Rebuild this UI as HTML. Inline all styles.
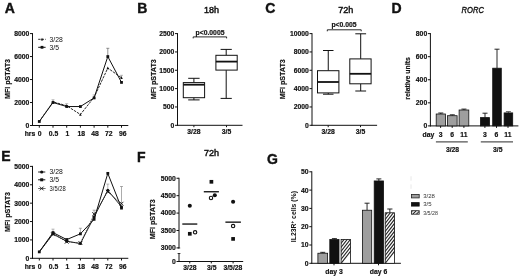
<!DOCTYPE html>
<html><head><meta charset="utf-8"><title>Figure</title>
<style>
html,body{margin:0;padding:0;background:#fff;}
body{width:520px;height:279px;overflow:hidden;font-family:"Liberation Sans",sans-serif;}
svg{display:block;filter:grayscale(1) blur(0.4px);}
svg text{font-family:"Liberation Sans",sans-serif;}
</style></head><body>
<svg width="520" height="279" viewBox="0 0 520 279">
<defs>
<pattern id="hatch" patternUnits="userSpaceOnUse" width="2.4" height="2.4" patternTransform="rotate(-45)">
<rect width="2.4" height="2.4" fill="#fff"/><line x1="0" y1="1.2" x2="2.4" y2="1.2" stroke="#222" stroke-width="0.9"/>
</pattern>
<pattern id="hatch2" patternUnits="userSpaceOnUse" width="2.6" height="2.6" patternTransform="rotate(-45)">
<rect width="2.6" height="2.6" fill="#fff"/><line x1="0" y1="1.3" x2="2.6" y2="1.3" stroke="#222" stroke-width="1.1"/>
</pattern>
</defs>
<rect width="520" height="279" fill="#fff"/>
<text x="4.7" y="13" font-size="14" font-weight="bold" text-anchor="start" fill="#111"  stroke="#111" stroke-width="0.4">A</text>
<text x="137.2" y="13" font-size="14" font-weight="bold" text-anchor="start" fill="#111"  stroke="#111" stroke-width="0.4">B</text>
<text x="265.3" y="13" font-size="14" font-weight="bold" text-anchor="start" fill="#111"  stroke="#111" stroke-width="0.4">C</text>
<text x="391.5" y="13" font-size="14" font-weight="bold" text-anchor="start" fill="#111"  stroke="#111" stroke-width="0.4">D</text>
<text x="1.3" y="161.4" font-size="14" font-weight="bold" text-anchor="start" fill="#111"  stroke="#111" stroke-width="0.4">E</text>
<text x="137" y="162.3" font-size="14" font-weight="bold" text-anchor="start" fill="#111"  stroke="#111" stroke-width="0.4">F</text>
<text x="267" y="164" font-size="14" font-weight="bold" text-anchor="start" fill="#111"  stroke="#111" stroke-width="0.4">G</text>
<line x1="32.5" y1="33.08" x2="32.5" y2="126.0" stroke="#111" stroke-width="1" />
<line x1="30.0" y1="125.5" x2="32.5" y2="125.5" stroke="#111" stroke-width="1" />
<text x="29.3" y="127.9" font-size="6.8" font-weight="bold" text-anchor="end" fill="#111"   stroke="#111" stroke-width="0.18">0</text>
<line x1="30.0" y1="102.52" x2="32.5" y2="102.52" stroke="#111" stroke-width="1" />
<text x="29.3" y="104.92" font-size="6.8" font-weight="bold" text-anchor="end" fill="#111"   stroke="#111" stroke-width="0.18">2000</text>
<line x1="30.0" y1="79.53999999999999" x2="32.5" y2="79.53999999999999" stroke="#111" stroke-width="1" />
<text x="29.3" y="81.94" font-size="6.8" font-weight="bold" text-anchor="end" fill="#111"   stroke="#111" stroke-width="0.18">4000</text>
<line x1="30.0" y1="56.56" x2="32.5" y2="56.56" stroke="#111" stroke-width="1" />
<text x="29.3" y="58.96" font-size="6.8" font-weight="bold" text-anchor="end" fill="#111"   stroke="#111" stroke-width="0.18">6000</text>
<line x1="30.0" y1="33.58" x2="32.5" y2="33.58" stroke="#111" stroke-width="1" />
<text x="29.3" y="35.98" font-size="6.8" font-weight="bold" text-anchor="end" fill="#111"   stroke="#111" stroke-width="0.18">8000</text>
<line x1="32.0" y1="125.5" x2="128.3" y2="125.5" stroke="#111" stroke-width="1" />
<line x1="39.3" y1="125.5" x2="39.3" y2="127.7" stroke="#111" stroke-width="1" />
<text x="39.7" y="136.2" font-size="6.8" font-weight="bold" text-anchor="middle" fill="#111"   stroke="#111" stroke-width="0.18">0</text>
<line x1="53.0" y1="125.5" x2="53.0" y2="127.7" stroke="#111" stroke-width="1" />
<text x="53.53" y="136.2" font-size="6.8" font-weight="bold" text-anchor="middle" fill="#111"   stroke="#111" stroke-width="0.18">0.5</text>
<line x1="66.69999999999999" y1="125.5" x2="66.69999999999999" y2="127.7" stroke="#111" stroke-width="1" />
<text x="67.36" y="136.2" font-size="6.8" font-weight="bold" text-anchor="middle" fill="#111"   stroke="#111" stroke-width="0.18">1</text>
<line x1="80.39999999999999" y1="125.5" x2="80.39999999999999" y2="127.7" stroke="#111" stroke-width="1" />
<text x="81.19" y="136.2" font-size="6.8" font-weight="bold" text-anchor="middle" fill="#111"   stroke="#111" stroke-width="0.18">18</text>
<line x1="94.1" y1="125.5" x2="94.1" y2="127.7" stroke="#111" stroke-width="1" />
<text x="95.02000000000001" y="136.2" font-size="6.8" font-weight="bold" text-anchor="middle" fill="#111"   stroke="#111" stroke-width="0.18">48</text>
<line x1="107.8" y1="125.5" x2="107.8" y2="127.7" stroke="#111" stroke-width="1" />
<text x="108.85000000000001" y="136.2" font-size="6.8" font-weight="bold" text-anchor="middle" fill="#111"   stroke="#111" stroke-width="0.18">72</text>
<line x1="121.49999999999999" y1="125.5" x2="121.49999999999999" y2="127.7" stroke="#111" stroke-width="1" />
<text x="122.68" y="136.2" font-size="6.8" font-weight="bold" text-anchor="middle" fill="#111"   stroke="#111" stroke-width="0.18">96</text>
<text x="30" y="136.2" font-size="6.8" font-weight="bold" text-anchor="middle" fill="#111"   stroke="#111" stroke-width="0.18">hrs</text>
<text transform="translate(10.4,79.0) rotate(-90)" font-size="7.1" font-weight="bold" text-anchor="middle" fill="#111" stroke="#111" stroke-width="0.18">MFI pSTAT3</text>
<line x1="107.8" y1="56.56" x2="107.8" y2="48.3" stroke="#666" stroke-width="0.7" />
<line x1="106.3" y1="48.3" x2="109.3" y2="48.3" stroke="#666" stroke-width="0.7" />
<line x1="53.0" y1="101.8306" x2="53.0" y2="99.6306" stroke="#aaa" stroke-width="0.7" />
<line x1="51.5" y1="99.6306" x2="54.5" y2="99.6306" stroke="#aaa" stroke-width="0.7" />
<line x1="66.69999999999999" y1="105.7372" x2="66.69999999999999" y2="103.5372" stroke="#aaa" stroke-width="0.7" />
<line x1="65.19999999999999" y1="103.5372" x2="68.19999999999999" y2="103.5372" stroke="#aaa" stroke-width="0.7" />
<line x1="94.1" y1="97.3495" x2="94.1" y2="94.8495" stroke="#aaa" stroke-width="0.7" />
<line x1="92.6" y1="94.8495" x2="95.6" y2="94.8495" stroke="#aaa" stroke-width="0.7" />
<line x1="121.49999999999999" y1="77.81649999999999" x2="121.49999999999999" y2="75.31649999999999" stroke="#999" stroke-width="0.7" />
<line x1="119.99999999999999" y1="75.31649999999999" x2="122.99999999999999" y2="75.31649999999999" stroke="#999" stroke-width="0.7" />
<polyline points="39.3,121.48 53.0,101.83 66.69999999999999,105.74 80.39999999999999,114.47 94.1,97.35 107.8,68.05 121.49999999999999,77.82" fill="none" stroke="#111" stroke-width="0.9" stroke-dasharray="2.6 1" stroke-linejoin="round"/>
<polyline points="39.3,121.48 53.0,102.52 66.69999999999999,106.54 80.39999999999999,106.54 94.1,97.92 107.8,56.56 121.49999999999999,82.41" fill="none" stroke="#111" stroke-width="1"  stroke-linejoin="round"/>
<polygon points="53.0,100.27 51.7,103.0 54.3,103.0" fill="#111"/>
<polygon points="66.69999999999999,104.17999999999999 65.39999999999999,106.91 67.99999999999999,106.91" fill="#111"/>
<polygon points="80.39999999999999,112.91 79.1,115.64 81.69999999999999,115.64" fill="#111"/>
<polygon points="94.1,95.78999999999999 92.8,98.52 95.39999999999999,98.52" fill="#111"/>
<polygon points="107.8,66.49 106.5,69.22 109.1,69.22" fill="#111"/>
<polygon points="121.49999999999999,76.25999999999999 120.19999999999999,78.99 122.79999999999998,78.99" fill="#111"/>
<rect x="37.9" y="120.08" width="2.8" height="2.8" fill="#111" stroke="none" stroke-width="0.8" />
<rect x="51.6" y="101.12" width="2.8" height="2.8" fill="#111" stroke="none" stroke-width="0.8" />
<rect x="65.3" y="105.14" width="2.8" height="2.8" fill="#111" stroke="none" stroke-width="0.8" />
<rect x="79.0" y="105.14" width="2.8" height="2.8" fill="#111" stroke="none" stroke-width="0.8" />
<rect x="92.7" y="96.52" width="2.8" height="2.8" fill="#111" stroke="none" stroke-width="0.8" />
<rect x="106.4" y="55.16" width="2.8" height="2.8" fill="#111" stroke="none" stroke-width="0.8" />
<rect x="120.1" y="81.01" width="2.8" height="2.8" fill="#111" stroke="none" stroke-width="0.8" />
<line x1="38.2" y1="39.3" x2="45.6" y2="39.3" stroke="#111" stroke-width="0.9" stroke-dasharray="2.4 1"/>
<polygon points="42,37.86 40.8,40.379999999999995 43.2,40.379999999999995" fill="#111"/>
<line x1="38.2" y1="47.3" x2="45.6" y2="47.3" stroke="#111" stroke-width="1" />
<rect x="40.6" y="45.9" width="2.8" height="2.8" fill="#111" stroke="none" stroke-width="0.8" />
<text x="49.5" y="42" font-size="6.8" font-weight="normal" text-anchor="start" fill="#111"  >3/28</text>
<text x="49.5" y="49.8" font-size="6.8" font-weight="normal" text-anchor="start" fill="#111"  >3/5</text>
<line x1="177.5" y1="33.099999999999994" x2="177.5" y2="125.8" stroke="#111" stroke-width="1" />
<line x1="175.0" y1="125.3" x2="177.5" y2="125.3" stroke="#111" stroke-width="1" />
<text x="174.3" y="127.7" font-size="6.8" font-weight="bold" text-anchor="end" fill="#111"   stroke="#111" stroke-width="0.18">0</text>
<line x1="175.0" y1="106.96" x2="177.5" y2="106.96" stroke="#111" stroke-width="1" />
<text x="174.3" y="109.36" font-size="6.8" font-weight="bold" text-anchor="end" fill="#111"   stroke="#111" stroke-width="0.18">500</text>
<line x1="175.0" y1="88.62" x2="177.5" y2="88.62" stroke="#111" stroke-width="1" />
<text x="174.3" y="91.02000000000001" font-size="6.8" font-weight="bold" text-anchor="end" fill="#111"   stroke="#111" stroke-width="0.18">1000</text>
<line x1="175.0" y1="70.28" x2="177.5" y2="70.28" stroke="#111" stroke-width="1" />
<text x="174.3" y="72.68" font-size="6.8" font-weight="bold" text-anchor="end" fill="#111"   stroke="#111" stroke-width="0.18">1500</text>
<line x1="175.0" y1="51.94" x2="177.5" y2="51.94" stroke="#111" stroke-width="1" />
<text x="174.3" y="54.339999999999996" font-size="6.8" font-weight="bold" text-anchor="end" fill="#111"   stroke="#111" stroke-width="0.18">2000</text>
<line x1="175.0" y1="33.599999999999994" x2="177.5" y2="33.599999999999994" stroke="#111" stroke-width="1" />
<text x="174.3" y="35.99999999999999" font-size="6.8" font-weight="bold" text-anchor="end" fill="#111"   stroke="#111" stroke-width="0.18">2500</text>
<line x1="177.0" y1="125.3" x2="242.5" y2="125.3" stroke="#111" stroke-width="1" />
<line x1="193.9" y1="125.3" x2="193.9" y2="127.2" stroke="#111" stroke-width="1" />
<text x="193.9" y="134" font-size="6.8" font-weight="bold" text-anchor="middle" fill="#111"   stroke="#111" stroke-width="0.18">3/28</text>
<line x1="226.5" y1="125.3" x2="226.5" y2="127.2" stroke="#111" stroke-width="1" />
<text x="226.5" y="134" font-size="6.8" font-weight="bold" text-anchor="middle" fill="#111"   stroke="#111" stroke-width="0.18">3/5</text>
<text transform="translate(155.5,79.3) rotate(-90)" font-size="7.1" font-weight="bold" text-anchor="middle" fill="#111" stroke="#111" stroke-width="0.18">MFI pSTAT3</text>
<text x="211.6" y="13.2" font-size="9" font-weight="normal" text-anchor="middle" fill="#111"  stroke="#111" stroke-width="0.45">18h</text>
<line x1="193.89999999999998" y1="78.3" x2="193.89999999999998" y2="82.6" stroke="#111" stroke-width="1" />
<line x1="193.89999999999998" y1="97.7" x2="193.89999999999998" y2="99.9" stroke="#111" stroke-width="1" />
<line x1="188.2" y1="78.3" x2="199.6" y2="78.3" stroke="#111" stroke-width="1" />
<line x1="188.2" y1="99.9" x2="199.6" y2="99.9" stroke="#111" stroke-width="1" />
<rect x="183.3" y="82.6" width="21.299999999999983" height="15.100000000000009" fill="#fff" stroke="#111" stroke-width="1" />
<line x1="183.3" y1="84.7" x2="204.6" y2="84.7" stroke="#111" stroke-width="1.8" />
<line x1="226.2" y1="49.4" x2="226.2" y2="55.3" stroke="#111" stroke-width="1" />
<line x1="226.2" y1="70.1" x2="226.2" y2="98.4" stroke="#111" stroke-width="1" />
<line x1="220.6" y1="49.4" x2="231.8" y2="49.4" stroke="#111" stroke-width="1" />
<line x1="220.6" y1="98.4" x2="231.8" y2="98.4" stroke="#111" stroke-width="1" />
<rect x="215.9" y="55.3" width="21.299999999999983" height="14.799999999999997" fill="#fff" stroke="#111" stroke-width="1" />
<line x1="215.9" y1="61.6" x2="237.2" y2="61.6" stroke="#111" stroke-width="1.8" />
<polyline points="193.2,38.4 193.2,36.9 226.6,36.9 226.6,38.4" fill="none" stroke="#111" stroke-width="0.9"  stroke-linejoin="round"/>
<text x="210" y="34.6" font-size="6.8" font-weight="bold" text-anchor="middle" fill="#111"   stroke="#111" stroke-width="0.18">p&lt;0.0005</text>
<line x1="312" y1="33.099999999999994" x2="312" y2="125.8" stroke="#111" stroke-width="1" />
<line x1="309.5" y1="125.3" x2="312" y2="125.3" stroke="#111" stroke-width="1" />
<text x="308.8" y="127.7" font-size="6.8" font-weight="bold" text-anchor="end" fill="#111"   stroke="#111" stroke-width="0.18">0</text>
<line x1="309.5" y1="106.96" x2="312" y2="106.96" stroke="#111" stroke-width="1" />
<text x="308.8" y="109.36" font-size="6.8" font-weight="bold" text-anchor="end" fill="#111"   stroke="#111" stroke-width="0.18">2000</text>
<line x1="309.5" y1="88.62" x2="312" y2="88.62" stroke="#111" stroke-width="1" />
<text x="308.8" y="91.02000000000001" font-size="6.8" font-weight="bold" text-anchor="end" fill="#111"   stroke="#111" stroke-width="0.18">4000</text>
<line x1="309.5" y1="70.28" x2="312" y2="70.28" stroke="#111" stroke-width="1" />
<text x="308.8" y="72.68" font-size="6.8" font-weight="bold" text-anchor="end" fill="#111"   stroke="#111" stroke-width="0.18">6000</text>
<line x1="309.5" y1="51.94" x2="312" y2="51.94" stroke="#111" stroke-width="1" />
<text x="308.8" y="54.339999999999996" font-size="6.8" font-weight="bold" text-anchor="end" fill="#111"   stroke="#111" stroke-width="0.18">8000</text>
<line x1="309.5" y1="33.599999999999994" x2="312" y2="33.599999999999994" stroke="#111" stroke-width="1" />
<text x="308.8" y="35.99999999999999" font-size="6.8" font-weight="bold" text-anchor="end" fill="#111"   stroke="#111" stroke-width="0.18">10000</text>
<line x1="311.5" y1="125.3" x2="377.1" y2="125.3" stroke="#111" stroke-width="1" />
<line x1="328.2" y1="125.3" x2="328.2" y2="127.2" stroke="#111" stroke-width="1" />
<text x="328.2" y="134" font-size="6.8" font-weight="bold" text-anchor="middle" fill="#111"   stroke="#111" stroke-width="0.18">3/28</text>
<line x1="360.5" y1="125.3" x2="360.5" y2="127.2" stroke="#111" stroke-width="1" />
<text x="360.5" y="134" font-size="6.8" font-weight="bold" text-anchor="middle" fill="#111"   stroke="#111" stroke-width="0.18">3/5</text>
<text transform="translate(285.4,79.3) rotate(-90)" font-size="7.1" font-weight="bold" text-anchor="middle" fill="#111" stroke="#111" stroke-width="0.18">MFI pSTAT3</text>
<text x="345.8" y="13.2" font-size="9" font-weight="normal" text-anchor="middle" fill="#111"  stroke="#111" stroke-width="0.45">72h</text>
<line x1="328.25" y1="50.5" x2="328.25" y2="70.7" stroke="#111" stroke-width="1" />
<line x1="328.25" y1="92.9" x2="328.25" y2="94.2" stroke="#111" stroke-width="1" />
<line x1="323" y1="50.5" x2="333.5" y2="50.5" stroke="#111" stroke-width="1" />
<line x1="323" y1="94.2" x2="333.5" y2="94.2" stroke="#111" stroke-width="1" />
<rect x="317.5" y="70.7" width="21.399999999999977" height="22.200000000000003" fill="#fff" stroke="#111" stroke-width="1" />
<line x1="317.5" y1="82" x2="338.9" y2="82" stroke="#111" stroke-width="1.8" />
<line x1="360.70000000000005" y1="33.8" x2="360.70000000000005" y2="58.9" stroke="#111" stroke-width="1" />
<line x1="360.70000000000005" y1="83.8" x2="360.70000000000005" y2="91" stroke="#111" stroke-width="1" />
<line x1="355.3" y1="33.8" x2="366.1" y2="33.8" stroke="#111" stroke-width="1" />
<line x1="355.3" y1="91" x2="366.1" y2="91" stroke="#111" stroke-width="1" />
<rect x="349.8" y="58.9" width="21.30000000000001" height="24.9" fill="#fff" stroke="#111" stroke-width="1" />
<line x1="349.8" y1="73.8" x2="371.1" y2="73.8" stroke="#111" stroke-width="1.8" />
<polyline points="327.3,31.3 327.3,29.8 361.2,29.8 361.2,31.3" fill="none" stroke="#111" stroke-width="0.9"  stroke-linejoin="round"/>
<text x="344" y="27" font-size="6.8" font-weight="bold" text-anchor="middle" fill="#111"   stroke="#111" stroke-width="0.18">p&lt;0.005</text>
<line x1="430.4" y1="33.120000000000005" x2="430.4" y2="126.4" stroke="#111" stroke-width="1" />
<line x1="427.9" y1="125.9" x2="430.4" y2="125.9" stroke="#111" stroke-width="1" />
<text x="427.2" y="128.3" font-size="6.8" font-weight="bold" text-anchor="end" fill="#111"   stroke="#111" stroke-width="0.18">0</text>
<line x1="427.9" y1="102.83000000000001" x2="430.4" y2="102.83000000000001" stroke="#111" stroke-width="1" />
<text x="427.2" y="105.23000000000002" font-size="6.8" font-weight="bold" text-anchor="end" fill="#111"   stroke="#111" stroke-width="0.18">200</text>
<line x1="427.9" y1="79.76" x2="430.4" y2="79.76" stroke="#111" stroke-width="1" />
<text x="427.2" y="82.16000000000001" font-size="6.8" font-weight="bold" text-anchor="end" fill="#111"   stroke="#111" stroke-width="0.18">400</text>
<line x1="427.9" y1="56.69" x2="430.4" y2="56.69" stroke="#111" stroke-width="1" />
<text x="427.2" y="59.089999999999996" font-size="6.8" font-weight="bold" text-anchor="end" fill="#111"   stroke="#111" stroke-width="0.18">600</text>
<line x1="427.9" y1="33.620000000000005" x2="430.4" y2="33.620000000000005" stroke="#111" stroke-width="1" />
<text x="427.2" y="36.02" font-size="6.8" font-weight="bold" text-anchor="end" fill="#111"   stroke="#111" stroke-width="0.18">800</text>
<line x1="429.9" y1="125.9" x2="518.4" y2="125.9" stroke="#111" stroke-width="1" />
<text transform="translate(409.8,78.5) rotate(-90)" font-size="6.9" font-weight="bold" text-anchor="middle" fill="#111" stroke="#111" stroke-width="0.18">relative units</text>
<text x="461.6" y="13.2" font-size="9.5" font-weight="normal" text-anchor="start" fill="#111" font-style="italic" stroke="#111" stroke-width="0.4" textLength="22.3" lengthAdjust="spacingAndGlyphs">RORC</text>
<line x1="440.79999999999995" y1="114.0" x2="440.79999999999995" y2="113.0" stroke="#111" stroke-width="0.9" />
<line x1="438.29999999999995" y1="113.0" x2="443.29999999999995" y2="113.0" stroke="#111" stroke-width="0.9" />
<rect x="436.2" y="114.0" width="9.199999999999989" height="11.900000000000006" fill="#9e9e9e" stroke="#111" stroke-width="0.8" />
<line x1="452.3" y1="115.7" x2="452.3" y2="114.8" stroke="#111" stroke-width="0.9" />
<line x1="449.8" y1="114.8" x2="454.8" y2="114.8" stroke="#111" stroke-width="0.9" />
<rect x="447.5" y="115.7" width="9.600000000000023" height="10.200000000000003" fill="#9e9e9e" stroke="#111" stroke-width="0.8" />
<line x1="463.95000000000005" y1="110.0" x2="463.95000000000005" y2="109.1" stroke="#111" stroke-width="0.9" />
<line x1="461.45000000000005" y1="109.1" x2="466.45000000000005" y2="109.1" stroke="#111" stroke-width="0.9" />
<rect x="459.1" y="110.0" width="9.699999999999989" height="15.900000000000006" fill="#9e9e9e" stroke="#111" stroke-width="0.8" />
<line x1="485.0" y1="117.6" x2="485.0" y2="113.2" stroke="#111" stroke-width="0.9" />
<line x1="482.5" y1="113.2" x2="487.5" y2="113.2" stroke="#111" stroke-width="0.9" />
<rect x="480.5" y="117.6" width="9.0" height="8.300000000000011" fill="#111" stroke="#111" stroke-width="0.8" />
<line x1="497.0" y1="68.2" x2="497.0" y2="49.2" stroke="#111" stroke-width="0.9" />
<line x1="494.5" y1="49.2" x2="499.5" y2="49.2" stroke="#111" stroke-width="0.9" />
<rect x="492.7" y="68.2" width="8.600000000000023" height="57.7" fill="#111" stroke="#111" stroke-width="0.8" />
<line x1="508.40000000000003" y1="112.9" x2="508.40000000000003" y2="111.6" stroke="#555" stroke-width="0.9" />
<line x1="505.90000000000003" y1="111.6" x2="510.90000000000003" y2="111.6" stroke="#555" stroke-width="0.9" />
<rect x="504.1" y="112.9" width="8.600000000000023" height="13.0" fill="#111" stroke="#111" stroke-width="0.8" />
<line x1="440.6" y1="125.9" x2="440.6" y2="127.9" stroke="#111" stroke-width="1" />
<line x1="452.2" y1="125.9" x2="452.2" y2="127.9" stroke="#111" stroke-width="1" />
<line x1="463.9" y1="125.9" x2="463.9" y2="127.9" stroke="#111" stroke-width="1" />
<line x1="484.9" y1="125.9" x2="484.9" y2="127.9" stroke="#111" stroke-width="1" />
<line x1="496.5" y1="125.9" x2="496.5" y2="127.9" stroke="#111" stroke-width="1" />
<line x1="508" y1="125.9" x2="508" y2="127.9" stroke="#111" stroke-width="1" />
<text x="428.4" y="137.1" font-size="6.8" font-weight="bold" text-anchor="middle" fill="#111"   stroke="#111" stroke-width="0.18">day</text>
<text x="440.7" y="137.1" font-size="6.8" font-weight="bold" text-anchor="middle" fill="#111"   stroke="#111" stroke-width="0.18">3</text>
<text x="452.2" y="137.1" font-size="6.8" font-weight="bold" text-anchor="middle" fill="#111"   stroke="#111" stroke-width="0.18">6</text>
<text x="463.9" y="137.1" font-size="6.8" font-weight="bold" text-anchor="middle" fill="#111"   stroke="#111" stroke-width="0.18">11</text>
<text x="484.9" y="137.1" font-size="6.8" font-weight="bold" text-anchor="middle" fill="#111"   stroke="#111" stroke-width="0.18">3</text>
<text x="496.4" y="137.1" font-size="6.8" font-weight="bold" text-anchor="middle" fill="#111"   stroke="#111" stroke-width="0.18">6</text>
<text x="507.9" y="137.1" font-size="6.8" font-weight="bold" text-anchor="middle" fill="#111"   stroke="#111" stroke-width="0.18">11</text>
<line x1="435.9" y1="141.9" x2="467.8" y2="141.9" stroke="#555" stroke-width="1.1" />
<line x1="480.8" y1="141.9" x2="513" y2="141.9" stroke="#555" stroke-width="1.1" />
<text x="452.5" y="151.8" font-size="6.8" font-weight="bold" text-anchor="middle" fill="#111"   stroke="#111" stroke-width="0.18">3/28</text>
<text x="497.8" y="151.8" font-size="6.8" font-weight="bold" text-anchor="middle" fill="#111"   stroke="#111" stroke-width="0.18">3/5</text>
<line x1="32.5" y1="165.90000000000003" x2="32.5" y2="258.8" stroke="#111" stroke-width="1" />
<line x1="30.0" y1="258.3" x2="32.5" y2="258.3" stroke="#111" stroke-width="1" />
<text x="29.3" y="260.7" font-size="6.8" font-weight="bold" text-anchor="end" fill="#111"   stroke="#111" stroke-width="0.18">0</text>
<line x1="30.0" y1="239.92000000000002" x2="32.5" y2="239.92000000000002" stroke="#111" stroke-width="1" />
<text x="29.3" y="242.32000000000002" font-size="6.8" font-weight="bold" text-anchor="end" fill="#111"   stroke="#111" stroke-width="0.18">1000</text>
<line x1="30.0" y1="221.54000000000002" x2="32.5" y2="221.54000000000002" stroke="#111" stroke-width="1" />
<text x="29.3" y="223.94000000000003" font-size="6.8" font-weight="bold" text-anchor="end" fill="#111"   stroke="#111" stroke-width="0.18">2000</text>
<line x1="30.0" y1="203.16000000000003" x2="32.5" y2="203.16000000000003" stroke="#111" stroke-width="1" />
<text x="29.3" y="205.56000000000003" font-size="6.8" font-weight="bold" text-anchor="end" fill="#111"   stroke="#111" stroke-width="0.18">3000</text>
<line x1="30.0" y1="184.78000000000003" x2="32.5" y2="184.78000000000003" stroke="#111" stroke-width="1" />
<text x="29.3" y="187.18000000000004" font-size="6.8" font-weight="bold" text-anchor="end" fill="#111"   stroke="#111" stroke-width="0.18">4000</text>
<line x1="30.0" y1="166.40000000000003" x2="32.5" y2="166.40000000000003" stroke="#111" stroke-width="1" />
<text x="29.3" y="168.80000000000004" font-size="6.8" font-weight="bold" text-anchor="end" fill="#111"   stroke="#111" stroke-width="0.18">5000</text>
<line x1="32.0" y1="258.3" x2="128.3" y2="258.3" stroke="#111" stroke-width="1" />
<line x1="39.3" y1="258.3" x2="39.3" y2="260.5" stroke="#111" stroke-width="1" />
<text x="39.7" y="269.0" font-size="6.8" font-weight="bold" text-anchor="middle" fill="#111"   stroke="#111" stroke-width="0.18">0</text>
<line x1="53.0" y1="258.3" x2="53.0" y2="260.5" stroke="#111" stroke-width="1" />
<text x="53.53" y="269.0" font-size="6.8" font-weight="bold" text-anchor="middle" fill="#111"   stroke="#111" stroke-width="0.18">0.5</text>
<line x1="66.69999999999999" y1="258.3" x2="66.69999999999999" y2="260.5" stroke="#111" stroke-width="1" />
<text x="67.36" y="269.0" font-size="6.8" font-weight="bold" text-anchor="middle" fill="#111"   stroke="#111" stroke-width="0.18">1</text>
<line x1="80.39999999999999" y1="258.3" x2="80.39999999999999" y2="260.5" stroke="#111" stroke-width="1" />
<text x="81.19" y="269.0" font-size="6.8" font-weight="bold" text-anchor="middle" fill="#111"   stroke="#111" stroke-width="0.18">18</text>
<line x1="94.1" y1="258.3" x2="94.1" y2="260.5" stroke="#111" stroke-width="1" />
<text x="95.02000000000001" y="269.0" font-size="6.8" font-weight="bold" text-anchor="middle" fill="#111"   stroke="#111" stroke-width="0.18">48</text>
<line x1="107.8" y1="258.3" x2="107.8" y2="260.5" stroke="#111" stroke-width="1" />
<text x="108.85000000000001" y="269.0" font-size="6.8" font-weight="bold" text-anchor="middle" fill="#111"   stroke="#111" stroke-width="0.18">72</text>
<line x1="121.49999999999999" y1="258.3" x2="121.49999999999999" y2="260.5" stroke="#111" stroke-width="1" />
<text x="122.68" y="269.0" font-size="6.8" font-weight="bold" text-anchor="middle" fill="#111"   stroke="#111" stroke-width="0.18">96</text>
<text x="30" y="269.0" font-size="6.8" font-weight="bold" text-anchor="middle" fill="#111"   stroke="#111" stroke-width="0.18">hrs</text>
<text transform="translate(10.4,212) rotate(-90)" font-size="7.1" font-weight="bold" text-anchor="middle" fill="#111" stroke="#111" stroke-width="0.18">MFI pSTAT3</text>
<line x1="121.49999999999999" y1="203.71140000000003" x2="121.49999999999999" y2="186.5" stroke="#888" stroke-width="0.7" />
<line x1="119.99999999999999" y1="186.5" x2="122.99999999999999" y2="186.5" stroke="#888" stroke-width="0.7" />
<line x1="107.8" y1="190.294" x2="107.8" y2="184.09400000000002" stroke="#999" stroke-width="0.7" />
<line x1="106.3" y1="184.09400000000002" x2="109.3" y2="184.09400000000002" stroke="#999" stroke-width="0.7" />
<line x1="80.39999999999999" y1="233.8546" x2="80.39999999999999" y2="228.2546" stroke="#888" stroke-width="0.7" />
<line x1="78.89999999999999" y1="228.2546" x2="81.89999999999999" y2="228.2546" stroke="#888" stroke-width="0.7" />
<line x1="53.0" y1="232.568" x2="53.0" y2="229.168" stroke="#999" stroke-width="0.7" />
<line x1="51.5" y1="229.168" x2="54.5" y2="229.168" stroke="#999" stroke-width="0.7" />
<line x1="94.1" y1="214.18800000000002" x2="94.1" y2="210.18800000000002" stroke="#888" stroke-width="0.7" />
<line x1="92.6" y1="210.18800000000002" x2="95.6" y2="210.18800000000002" stroke="#888" stroke-width="0.7" />
<polyline points="39.3,251.87 53.0,234.22 66.69999999999999,241.76 80.39999999999999,243.04 94.1,214.19 107.8,191.76 121.49999999999999,203.71" fill="none" stroke="#444" stroke-width="0.8" stroke-dasharray="1.5 1" stroke-linejoin="round"/>
<polyline points="39.3,251.87 53.0,233.85 66.69999999999999,241.21 80.39999999999999,243.6 94.1,216.95 107.8,190.29 121.49999999999999,206.84" fill="none" stroke="#111" stroke-width="0.9"  stroke-linejoin="round"/>
<polyline points="39.3,251.87 53.0,232.57 66.69999999999999,239.55 80.39999999999999,233.85 94.1,219.33 107.8,173.38 121.49999999999999,208.12" fill="none" stroke="#111" stroke-width="1"  stroke-linejoin="round"/>
<line x1="51.1" y1="232.32" x2="54.9" y2="236.12" stroke="#111" stroke-width="0.9" />
<line x1="51.1" y1="236.12" x2="54.9" y2="232.32" stroke="#111" stroke-width="0.9" />
<line x1="64.79999999999998" y1="239.85999999999999" x2="68.6" y2="243.66" stroke="#111" stroke-width="0.9" />
<line x1="64.79999999999998" y1="243.66" x2="68.6" y2="239.85999999999999" stroke="#111" stroke-width="0.9" />
<line x1="78.49999999999999" y1="241.14" x2="82.3" y2="244.94" stroke="#111" stroke-width="0.9" />
<line x1="78.49999999999999" y1="244.94" x2="82.3" y2="241.14" stroke="#111" stroke-width="0.9" />
<line x1="92.19999999999999" y1="212.29" x2="96.0" y2="216.09" stroke="#111" stroke-width="0.9" />
<line x1="92.19999999999999" y1="216.09" x2="96.0" y2="212.29" stroke="#111" stroke-width="0.9" />
<line x1="105.89999999999999" y1="189.85999999999999" x2="109.7" y2="193.66" stroke="#111" stroke-width="0.9" />
<line x1="105.89999999999999" y1="193.66" x2="109.7" y2="189.85999999999999" stroke="#111" stroke-width="0.9" />
<line x1="119.59999999999998" y1="201.81" x2="123.39999999999999" y2="205.61" stroke="#111" stroke-width="0.9" />
<line x1="119.59999999999998" y1="205.61" x2="123.39999999999999" y2="201.81" stroke="#111" stroke-width="0.9" />
<circle cx="53.0" cy="233.85" r="1.5" fill="#111" stroke="none" stroke-width="0.8"/>
<circle cx="66.69999999999999" cy="241.21" r="1.5" fill="#111" stroke="none" stroke-width="0.8"/>
<circle cx="80.39999999999999" cy="243.6" r="1.5" fill="#111" stroke="none" stroke-width="0.8"/>
<circle cx="94.1" cy="216.95" r="1.5" fill="#111" stroke="none" stroke-width="0.8"/>
<circle cx="107.8" cy="190.29" r="1.5" fill="#111" stroke="none" stroke-width="0.8"/>
<circle cx="121.49999999999999" cy="206.84" r="1.5" fill="#111" stroke="none" stroke-width="0.8"/>
<rect x="37.9" y="250.47" width="2.8" height="2.8" fill="#111" stroke="none" stroke-width="0.8" />
<rect x="51.6" y="231.17" width="2.8" height="2.8" fill="#111" stroke="none" stroke-width="0.8" />
<rect x="65.3" y="238.15" width="2.8" height="2.8" fill="#111" stroke="none" stroke-width="0.8" />
<rect x="79.0" y="232.45" width="2.8" height="2.8" fill="#111" stroke="none" stroke-width="0.8" />
<rect x="92.7" y="217.93" width="2.8" height="2.8" fill="#111" stroke="none" stroke-width="0.8" />
<rect x="106.4" y="171.98" width="2.8" height="2.8" fill="#111" stroke="none" stroke-width="0.8" />
<rect x="120.1" y="206.72" width="2.8" height="2.8" fill="#111" stroke="none" stroke-width="0.8" />
<line x1="38.1" y1="172" x2="45.3" y2="172" stroke="#111" stroke-width="0.9" />
<circle cx="41.7" cy="172" r="1.6" fill="#111" stroke="none" stroke-width="0.8"/>
<line x1="38.1" y1="179.8" x2="45.3" y2="179.8" stroke="#111" stroke-width="1" />
<rect x="40.2" y="178.3" width="3" height="3" fill="#111" stroke="none" stroke-width="0.8" />
<line x1="38.1" y1="188.5" x2="45.6" y2="188.5" stroke="#444" stroke-width="0.8" />
<line x1="39.800000000000004" y1="186.6" x2="43.6" y2="190.4" stroke="#111" stroke-width="0.9" />
<line x1="39.800000000000004" y1="190.4" x2="43.6" y2="186.6" stroke="#111" stroke-width="0.9" />
<text x="49.6" y="174.4" font-size="6.8" font-weight="normal" text-anchor="start" fill="#111"  >3/28</text>
<text x="49.6" y="182.3" font-size="6.8" font-weight="normal" text-anchor="start" fill="#111"  >3/5</text>
<text x="49.6" y="191.1" font-size="6.8" font-weight="normal" text-anchor="start" fill="#111"  textLength="16.2" lengthAdjust="spacingAndGlyphs">3/5/28</text>
<line x1="179" y1="177.76" x2="179" y2="248.2" stroke="#111" stroke-width="1" />
<line x1="177.8" y1="248" x2="180.2" y2="248" stroke="#111" stroke-width="0.8" />
<line x1="176.5" y1="247.9" x2="179" y2="247.9" stroke="#111" stroke-width="1" />
<text x="175.8" y="250.3" font-size="6.8" font-weight="bold" text-anchor="end" fill="#111"   stroke="#111" stroke-width="0.18">3000</text>
<line x1="176.5" y1="230.49" x2="179" y2="230.49" stroke="#111" stroke-width="1" />
<text x="175.8" y="232.89000000000001" font-size="6.8" font-weight="bold" text-anchor="end" fill="#111"   stroke="#111" stroke-width="0.18">3500</text>
<line x1="176.5" y1="213.08" x2="179" y2="213.08" stroke="#111" stroke-width="1" />
<text x="175.8" y="215.48000000000002" font-size="6.8" font-weight="bold" text-anchor="end" fill="#111"   stroke="#111" stroke-width="0.18">4000</text>
<line x1="176.5" y1="195.67000000000002" x2="179" y2="195.67000000000002" stroke="#111" stroke-width="1" />
<text x="175.8" y="198.07000000000002" font-size="6.8" font-weight="bold" text-anchor="end" fill="#111"   stroke="#111" stroke-width="0.18">4500</text>
<line x1="176.5" y1="178.26" x2="179" y2="178.26" stroke="#111" stroke-width="1" />
<text x="175.8" y="180.66" font-size="6.8" font-weight="bold" text-anchor="end" fill="#111"   stroke="#111" stroke-width="0.18">5000</text>
<line x1="179" y1="253.2" x2="179" y2="262" stroke="#111" stroke-width="1" />
<line x1="177.6" y1="253.5" x2="180.4" y2="253.5" stroke="#111" stroke-width="0.8" />
<line x1="176.5" y1="261.5" x2="179" y2="261.5" stroke="#111" stroke-width="1" />
<text x="175.8" y="263.9" font-size="6.8" font-weight="bold" text-anchor="end" fill="#111"   stroke="#111" stroke-width="0.18">0</text>
<line x1="178.5" y1="261.5" x2="243.2" y2="261.5" stroke="#111" stroke-width="1" />
<line x1="189.75" y1="261.5" x2="189.75" y2="263.4" stroke="#111" stroke-width="1" />
<text x="189.9" y="269.9" font-size="6.8" font-weight="bold" text-anchor="middle" fill="#111"   stroke="#111" stroke-width="0.18">3/28</text>
<line x1="211.3" y1="261.5" x2="211.3" y2="263.4" stroke="#111" stroke-width="1" />
<text x="211.8" y="269.9" font-size="6.8" font-weight="bold" text-anchor="middle" fill="#111"   stroke="#111" stroke-width="0.18">3/5</text>
<line x1="233.1" y1="261.5" x2="233.1" y2="263.4" stroke="#111" stroke-width="1" />
<text x="232.9" y="269.9" font-size="6.8" font-weight="bold" text-anchor="middle" fill="#111"   stroke="#111" stroke-width="0.18">3/5/28</text>
<text transform="translate(155.4,219.3) rotate(-90)" font-size="7.1" font-weight="bold" text-anchor="middle" fill="#111" stroke="#111" stroke-width="0.18">MFI pSTAT3</text>
<text x="211.6" y="156.2" font-size="9" font-weight="normal" text-anchor="middle" fill="#111"  stroke="#111" stroke-width="0.45">72h</text>
<circle cx="189.8" cy="205.7" r="2.05" fill="#111" stroke="none" stroke-width="0.8"/>
<rect x="187.95" y="231.95" width="3.7" height="3.7" fill="#111" stroke="none" stroke-width="0.8" />
<circle cx="195.1" cy="232.3" r="1.7" fill="#fff" stroke="#111" stroke-width="1.1"/>
<line x1="182.3" y1="224.05" x2="197.3" y2="224.05" stroke="#111" stroke-width="1.35" />
<rect x="209.55" y="179.95" width="3.7" height="3.7" fill="#111" stroke="none" stroke-width="0.8" />
<circle cx="214.8" cy="195.2" r="2.05" fill="#111" stroke="none" stroke-width="0.8"/>
<circle cx="211" cy="198" r="1.7" fill="#fff" stroke="#111" stroke-width="1.1"/>
<line x1="203.8" y1="191.75" x2="218.9" y2="191.75" stroke="#111" stroke-width="1.35" />
<circle cx="233.1" cy="201.7" r="2.05" fill="#111" stroke="none" stroke-width="0.8"/>
<circle cx="233.1" cy="226.1" r="1.7" fill="#fff" stroke="#111" stroke-width="1.1"/>
<rect x="231.25" y="237.05" width="3.7" height="3.7" fill="#111" stroke="none" stroke-width="0.8" />
<line x1="225.4" y1="222.15" x2="240.9" y2="222.15" stroke="#111" stroke-width="1.35" />
<line x1="311.8" y1="171.3" x2="311.8" y2="263.8" stroke="#111" stroke-width="1" />
<line x1="309.3" y1="263.3" x2="311.8" y2="263.3" stroke="#111" stroke-width="1" />
<text x="308.6" y="265.7" font-size="6.8" font-weight="bold" text-anchor="end" fill="#111"   stroke="#111" stroke-width="0.18">0</text>
<line x1="309.3" y1="245.0" x2="311.8" y2="245.0" stroke="#111" stroke-width="1" />
<text x="308.6" y="247.4" font-size="6.8" font-weight="bold" text-anchor="end" fill="#111"   stroke="#111" stroke-width="0.18">10</text>
<line x1="309.3" y1="226.70000000000002" x2="311.8" y2="226.70000000000002" stroke="#111" stroke-width="1" />
<text x="308.6" y="229.10000000000002" font-size="6.8" font-weight="bold" text-anchor="end" fill="#111"   stroke="#111" stroke-width="0.18">20</text>
<line x1="309.3" y1="208.4" x2="311.8" y2="208.4" stroke="#111" stroke-width="1" />
<text x="308.6" y="210.8" font-size="6.8" font-weight="bold" text-anchor="end" fill="#111"   stroke="#111" stroke-width="0.18">30</text>
<line x1="309.3" y1="190.10000000000002" x2="311.8" y2="190.10000000000002" stroke="#111" stroke-width="1" />
<text x="308.6" y="192.50000000000003" font-size="6.8" font-weight="bold" text-anchor="end" fill="#111"   stroke="#111" stroke-width="0.18">40</text>
<line x1="309.3" y1="171.8" x2="311.8" y2="171.8" stroke="#111" stroke-width="1" />
<text x="308.6" y="174.20000000000002" font-size="6.8" font-weight="bold" text-anchor="end" fill="#111"   stroke="#111" stroke-width="0.18">50</text>
<line x1="311.3" y1="263.3" x2="400.9" y2="263.3" stroke="#111" stroke-width="1" />
<text transform="translate(296.3,216.6) rotate(-90)" font-size="6.9" font-weight="bold" text-anchor="middle" fill="#111">IL23R<tspan font-size="4.5" dy="-2.5">+</tspan><tspan dy="2.5"> cells (%)</tspan></text>
<line x1="322.75" y1="253.235" x2="322.75" y2="252.335" stroke="#111" stroke-width="0.9" />
<line x1="320.25" y1="252.335" x2="325.25" y2="252.335" stroke="#111" stroke-width="0.9" />
<rect x="317.9" y="253.235" width="9.700000000000045" height="10.064999999999998" fill="#9e9e9e" stroke="#111" stroke-width="0.8" />
<line x1="334.4" y1="239.51000000000002" x2="334.4" y2="238.61" stroke="#111" stroke-width="0.9" />
<line x1="331.9" y1="238.61" x2="336.9" y2="238.61" stroke="#111" stroke-width="0.9" />
<rect x="329.8" y="239.51000000000002" width="9.199999999999989" height="23.789999999999992" fill="#111" stroke="#111" stroke-width="0.8" />
<clipPath id="c1"><rect x="341.1" y="239.51000000000002" width="9.4" height="23.79"/></clipPath>
<rect x="341.1" y="239.51000000000002" width="9.399999999999977" height="23.789999999999992" fill="#fff" stroke="none" stroke-width="0.8" />
<g clip-path="url(#c1)" stroke="#222" stroke-width="1.1">
<line x1="340.1" y1="264.58" x2="351.5" y2="249.99"/>
<line x1="340.1" y1="260.58" x2="351.5" y2="245.99"/>
<line x1="340.1" y1="256.58" x2="351.5" y2="241.99"/>
<line x1="340.1" y1="252.58" x2="351.5" y2="237.99"/>
<line x1="340.1" y1="248.58" x2="351.5" y2="233.99"/>
<line x1="340.1" y1="244.58" x2="351.5" y2="229.99"/>
<line x1="340.1" y1="240.58" x2="351.5" y2="225.99"/>
<line x1="340.1" y1="236.58" x2="351.5" y2="221.99"/>
<line x1="340.1" y1="232.58" x2="351.5" y2="217.99"/>
<line x1="340.1" y1="228.58" x2="351.5" y2="213.99"/>
</g>
<rect x="341.1" y="239.51000000000002" width="9.399999999999977" height="23.789999999999992" fill="none" stroke="#111" stroke-width="0.8" />
<line x1="367.04999999999995" y1="210.23000000000002" x2="367.04999999999995" y2="203.2" stroke="#111" stroke-width="0.9" />
<line x1="364.54999999999995" y1="203.2" x2="369.54999999999995" y2="203.2" stroke="#111" stroke-width="0.9" />
<rect x="362.4" y="210.23000000000002" width="9.300000000000011" height="53.06999999999999" fill="#9e9e9e" stroke="#111" stroke-width="0.8" />
<line x1="378.85" y1="180.95" x2="378.85" y2="178.9" stroke="#111" stroke-width="0.9" />
<line x1="376.35" y1="178.9" x2="381.35" y2="178.9" stroke="#111" stroke-width="0.9" />
<rect x="374.2" y="180.95" width="9.300000000000011" height="82.35000000000002" fill="#111" stroke="#111" stroke-width="0.8" />
<line x1="389.85" y1="212.792" x2="389.85" y2="209" stroke="#111" stroke-width="0.9" />
<line x1="387.25" y1="209" x2="392.45000000000005" y2="209" stroke="#111" stroke-width="0.9" />
<clipPath id="c2"><rect x="385.2" y="212.792" width="9.3" height="50.51"/></clipPath>
<rect x="385.2" y="212.792" width="9.300000000000011" height="50.50800000000001" fill="#fff" stroke="none" stroke-width="0.8" />
<g clip-path="url(#c2)" stroke="#222" stroke-width="1.1">
<line x1="384.2" y1="264.58" x2="395.5" y2="250.12"/>
<line x1="384.2" y1="260.58" x2="395.5" y2="246.12"/>
<line x1="384.2" y1="256.58" x2="395.5" y2="242.12"/>
<line x1="384.2" y1="252.58" x2="395.5" y2="238.12"/>
<line x1="384.2" y1="248.58" x2="395.5" y2="234.12"/>
<line x1="384.2" y1="244.58" x2="395.5" y2="230.12"/>
<line x1="384.2" y1="240.58" x2="395.5" y2="226.12"/>
<line x1="384.2" y1="236.58" x2="395.5" y2="222.12"/>
<line x1="384.2" y1="232.58" x2="395.5" y2="218.12"/>
<line x1="384.2" y1="228.58" x2="395.5" y2="214.12"/>
<line x1="384.2" y1="224.58" x2="395.5" y2="210.12"/>
<line x1="384.2" y1="220.58" x2="395.5" y2="206.12"/>
<line x1="384.2" y1="216.58" x2="395.5" y2="202.12"/>
<line x1="384.2" y1="212.58" x2="395.5" y2="198.12"/>
<line x1="384.2" y1="208.58" x2="395.5" y2="194.12"/>
<line x1="384.2" y1="204.58" x2="395.5" y2="190.12"/>
<line x1="384.2" y1="200.58" x2="395.5" y2="186.12"/>
</g>
<rect x="385.2" y="212.792" width="9.300000000000011" height="50.50800000000001" fill="none" stroke="#111" stroke-width="0.8" />
<line x1="334" y1="263.3" x2="334" y2="265.3" stroke="#111" stroke-width="1" />
<line x1="378.5" y1="263.3" x2="378.5" y2="265.3" stroke="#111" stroke-width="1" />
<text x="334" y="273.5" font-size="6.8" font-weight="bold" text-anchor="middle" fill="#111"   stroke="#111" stroke-width="0.18">day 3</text>
<text x="378.5" y="273.5" font-size="6.8" font-weight="bold" text-anchor="middle" fill="#111"   stroke="#111" stroke-width="0.18">day 6</text>
<rect x="411.4" y="194.4" width="7.8" height="3.5" fill="#9e9e9e" stroke="#222" stroke-width="0.8" />
<rect x="411.4" y="202.6" width="7.8" height="3.5" fill="#111" stroke="#111" stroke-width="0.8" />
<rect x="411.4" y="210.7" width="7.8" height="3.5" fill="url(#hatch2)" stroke="#222" stroke-width="0.8" />
<text x="423.2" y="198.1" font-size="6.1" font-weight="normal" text-anchor="start" fill="#333"  textLength="11.7" lengthAdjust="spacingAndGlyphs">3/28</text>
<text x="423.2" y="206.4" font-size="6.1" font-weight="normal" text-anchor="start" fill="#333"  textLength="8.4" lengthAdjust="spacingAndGlyphs">3/5</text>
<text x="423.2" y="214.5" font-size="6.1" font-weight="normal" text-anchor="start" fill="#333"  textLength="14.7" lengthAdjust="spacingAndGlyphs">3/5/28</text>
<line x1="411" y1="176.3" x2="411" y2="180.7" stroke="#e2e2e2" stroke-width="0.8" />
<line x1="411" y1="184.4" x2="411" y2="188.8" stroke="#e2e2e2" stroke-width="0.8" />
</svg>
</body></html>
